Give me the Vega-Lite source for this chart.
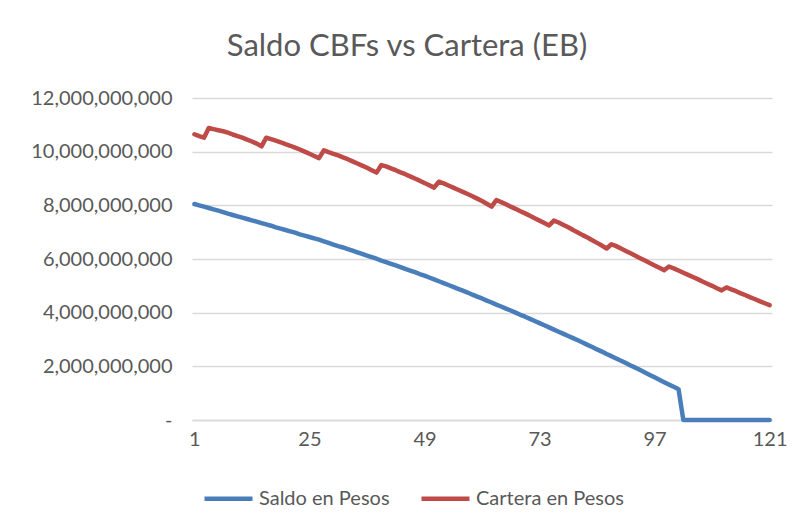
{
  "$schema": "https://vega.github.io/schema/vega-lite/v6.json",
  "width": 580,
  "height": 322,
  "autosize": {"type": "none"},
  "padding": {"left": 192, "top": 98, "right": 31, "bottom": 109},
  "background": "white",
  "title": {
    "text": "Saldo CBFs vs Cartera (EB)",
    "font": "Lato",
    "fontSize": 31,
    "fontWeight": "normal",
    "color": "#595959",
    "anchor": "middle",
    "dx": -75,
    "offset": 25
  },
  "data": {
    "values": [
      {"p":1,"saldo":8.05e9,"cartera":10.65e9},{"p":2,"saldo":8.00e9,"cartera":10.58e9},{"p":3,"saldo":7.95e9,"cartera":10.52e9},{"p":4,"saldo":7.90e9,"cartera":10.88e9},{"p":5,"saldo":7.85e9,"cartera":10.84e9},{"p":6,"saldo":7.80e9,"cartera":10.80e9},{"p":7,"saldo":7.75e9,"cartera":10.76e9},{"p":8,"saldo":7.69e9,"cartera":10.71e9},{"p":9,"saldo":7.64e9,"cartera":10.64e9},{"p":10,"saldo":7.59e9,"cartera":10.58e9},
      {"p":11,"saldo":7.54e9,"cartera":10.52e9},{"p":12,"saldo":7.49e9,"cartera":10.45e9},{"p":13,"saldo":7.44e9,"cartera":10.38e9},{"p":14,"saldo":7.39e9,"cartera":10.30e9},{"p":15,"saldo":7.34e9,"cartera":10.20e9},{"p":16,"saldo":7.29e9,"cartera":10.52e9},{"p":17,"saldo":7.24e9,"cartera":10.47e9},{"p":18,"saldo":7.18e9,"cartera":10.41e9},{"p":19,"saldo":7.13e9,"cartera":10.35e9},{"p":20,"saldo":7.08e9,"cartera":10.28e9},
      {"p":21,"saldo":7.03e9,"cartera":10.22e9},{"p":22,"saldo":6.98e9,"cartera":10.15e9},{"p":23,"saldo":6.92e9,"cartera":10.08e9},{"p":24,"saldo":6.87e9,"cartera":10.00e9},{"p":25,"saldo":6.82e9,"cartera":9.92e9},{"p":26,"saldo":6.77e9,"cartera":9.84e9},{"p":27,"saldo":6.72e9,"cartera":9.76e9},{"p":28,"saldo":6.66e9,"cartera":10.05e9},{"p":29,"saldo":6.60e9,"cartera":9.98e9},{"p":30,"saldo":6.54e9,"cartera":9.92e9},
      {"p":31,"saldo":6.48e9,"cartera":9.86e9},{"p":32,"saldo":6.43e9,"cartera":9.79e9},{"p":33,"saldo":6.37e9,"cartera":9.72e9},{"p":34,"saldo":6.31e9,"cartera":9.64e9},{"p":35,"saldo":6.25e9,"cartera":9.56e9},{"p":36,"saldo":6.19e9,"cartera":9.48e9},{"p":37,"saldo":6.13e9,"cartera":9.40e9},{"p":38,"saldo":6.07e9,"cartera":9.31e9},{"p":39,"saldo":6.01e9,"cartera":9.22e9},{"p":40,"saldo":5.94e9,"cartera":9.50e9},
      {"p":41,"saldo":5.88e9,"cartera":9.45e9},{"p":42,"saldo":5.82e9,"cartera":9.38e9},{"p":43,"saldo":5.76e9,"cartera":9.31e9},{"p":44,"saldo":5.70e9,"cartera":9.23e9},{"p":45,"saldo":5.63e9,"cartera":9.16e9},{"p":46,"saldo":5.57e9,"cartera":9.08e9},{"p":47,"saldo":5.51e9,"cartera":9.00e9},{"p":48,"saldo":5.44e9,"cartera":8.92e9},{"p":49,"saldo":5.38e9,"cartera":8.83e9},{"p":50,"saldo":5.31e9,"cartera":8.75e9},
      {"p":51,"saldo":5.24e9,"cartera":8.66e9},{"p":52,"saldo":5.17e9,"cartera":8.88e9},{"p":53,"saldo":5.10e9,"cartera":8.82e9},{"p":54,"saldo":5.03e9,"cartera":8.74e9},{"p":55,"saldo":4.96e9,"cartera":8.66e9},{"p":56,"saldo":4.89e9,"cartera":8.58e9},{"p":57,"saldo":4.82e9,"cartera":8.50e9},{"p":58,"saldo":4.75e9,"cartera":8.42e9},{"p":59,"saldo":4.67e9,"cartera":8.34e9},{"p":60,"saldo":4.60e9,"cartera":8.25e9},
      {"p":61,"saldo":4.53e9,"cartera":8.16e9},{"p":62,"saldo":4.45e9,"cartera":8.06e9},{"p":63,"saldo":4.38e9,"cartera":7.95e9},{"p":64,"saldo":4.30e9,"cartera":8.20e9},{"p":65,"saldo":4.23e9,"cartera":8.12e9},{"p":66,"saldo":4.15e9,"cartera":8.04e9},{"p":67,"saldo":4.08e9,"cartera":7.95e9},{"p":68,"saldo":4.00e9,"cartera":7.87e9},{"p":69,"saldo":3.92e9,"cartera":7.78e9},{"p":70,"saldo":3.85e9,"cartera":7.70e9},
      {"p":71,"saldo":3.77e9,"cartera":7.61e9},{"p":72,"saldo":3.69e9,"cartera":7.52e9},{"p":73,"saldo":3.61e9,"cartera":7.43e9},{"p":74,"saldo":3.53e9,"cartera":7.34e9},{"p":75,"saldo":3.45e9,"cartera":7.25e9},{"p":76,"saldo":3.37e9,"cartera":7.43e9},{"p":77,"saldo":3.29e9,"cartera":7.36e9},{"p":78,"saldo":3.21e9,"cartera":7.27e9},{"p":79,"saldo":3.13e9,"cartera":7.18e9},{"p":80,"saldo":3.05e9,"cartera":7.08e9},
      {"p":81,"saldo":2.97e9,"cartera":6.99e9},{"p":82,"saldo":2.89e9,"cartera":6.89e9},{"p":83,"saldo":2.80e9,"cartera":6.80e9},{"p":84,"saldo":2.72e9,"cartera":6.70e9},{"p":85,"saldo":2.63e9,"cartera":6.60e9},{"p":86,"saldo":2.55e9,"cartera":6.50e9},{"p":87,"saldo":2.46e9,"cartera":6.39e9},{"p":88,"saldo":2.38e9,"cartera":6.55e9},{"p":89,"saldo":2.29e9,"cartera":6.48e9},{"p":90,"saldo":2.21e9,"cartera":6.39e9},
      {"p":91,"saldo":2.12e9,"cartera":6.30e9},{"p":92,"saldo":2.03e9,"cartera":6.21e9},{"p":93,"saldo":1.95e9,"cartera":6.12e9},{"p":94,"saldo":1.86e9,"cartera":6.03e9},{"p":95,"saldo":1.77e9,"cartera":5.94e9},{"p":96,"saldo":1.68e9,"cartera":5.85e9},{"p":97,"saldo":1.59e9,"cartera":5.76e9},{"p":98,"saldo":1.50e9,"cartera":5.67e9},{"p":99,"saldo":1.41e9,"cartera":5.58e9},{"p":100,"saldo":1.32e9,"cartera":5.72e9},
      {"p":101,"saldo":1.24e9,"cartera":5.65e9},{"p":102,"saldo":1.15e9,"cartera":5.57e9},{"p":103,"saldo":0,"cartera":5.49e9},{"p":104,"saldo":0,"cartera":5.41e9},{"p":105,"saldo":0,"cartera":5.33e9},{"p":106,"saldo":0,"cartera":5.25e9},{"p":107,"saldo":0,"cartera":5.16e9},{"p":108,"saldo":0,"cartera":5.08e9},{"p":109,"saldo":0,"cartera":5.00e9},{"p":110,"saldo":0,"cartera":4.91e9},
      {"p":111,"saldo":0,"cartera":4.83e9},{"p":112,"saldo":0,"cartera":4.94e9},{"p":113,"saldo":0,"cartera":4.87e9},{"p":114,"saldo":0,"cartera":4.80e9},{"p":115,"saldo":0,"cartera":4.72e9},{"p":116,"saldo":0,"cartera":4.65e9},{"p":117,"saldo":0,"cartera":4.57e9},{"p":118,"saldo":0,"cartera":4.50e9},{"p":119,"saldo":0,"cartera":4.42e9},{"p":120,"saldo":0,"cartera":4.35e9},
      {"p":121,"saldo":0,"cartera":4.28e9}
    ]
  },
  "transform": [
    {"fold": ["saldo", "cartera"], "as": ["key", "valor"]},
    {"lookup": "key", "from": {"data": {"values": [{"key": "saldo", "serie": "Saldo en Pesos"}, {"key": "cartera", "serie": "Cartera en Pesos"}]}, "key": "key", "fields": ["serie"]}}
  ],
  "mark": {"type": "line", "strokeWidth": 4.5, "strokeJoin": "round", "strokeCap": "round"},
  "encoding": {
    "x": {
      "field": "p",
      "type": "quantitative",
      "scale": {"domain": [0.5, 121.5], "nice": false, "zero": false},
      "axis": {
        "title": null,
        "values": [1, 25, 49, 73, 97, 121],
        "grid": false,
        "ticks": false,
        "domain": true,
        "domainColor": "#D9D9D9",
        "domainWidth": 1.5,
        "labelFont": "Lato",
        "labelFontSize": 20,
        "labelColor": "#595959",
        "labelPadding": 9,
        "labelFlush": false
      }
    },
    "y": {
      "field": "valor",
      "type": "quantitative",
      "scale": {"domain": [0, 12000000000], "nice": false},
      "axis": {
        "title": null,
        "values": [0, 2000000000, 4000000000, 6000000000, 8000000000, 10000000000, 12000000000],
        "grid": true,
        "gridColor": "#D9D9D9",
        "gridWidth": 1.5,
        "domain": false,
        "ticks": false,
        "labelFont": "Lato",
        "labelFontSize": 20,
        "labelColor": "#595959",
        "labelPadding": 20,
        "labelExpr": "datum.value == 0 ? '-\u00a0\u00a0' : format(datum.value, ',')"
      }
    },
    "color": {
      "field": "serie",
      "type": "nominal",
      "sort": ["Saldo en Pesos", "Cartera en Pesos"],
      "scale": {"domain": ["Saldo en Pesos", "Cartera en Pesos"], "range": ["#4A7EBB", "#BE4B48"]},
      "legend": {
        "title": null,
        "orient": "none",
        "direction": "horizontal",
        "legendX": 10,
        "legendY": 374,
        "symbolType": "stroke",
        "symbolSize": 2304,
        "symbolStrokeWidth": 4.5,
        "labelFont": "Lato",
        "labelFontSize": 20,
        "labelColor": "#595959",
        "labelOffset": 4,
        "columnPadding": 22
      }
    },
    "order": {"field": "p", "type": "quantitative"}
  },
  "config": {
    "view": {"stroke": null}
  }
}
